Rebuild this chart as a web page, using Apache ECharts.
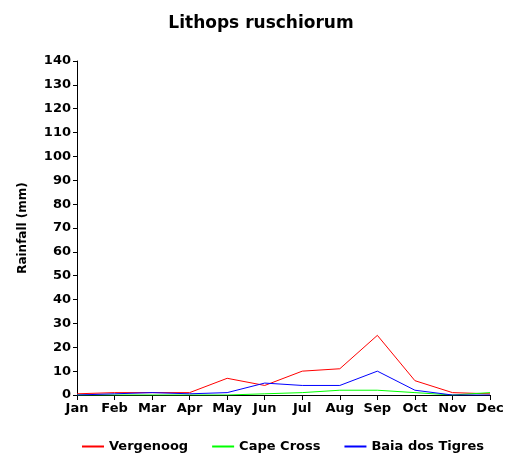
<!DOCTYPE html>
<html><head><meta charset="utf-8">
<script src="https://cdn.jsdelivr.net/npm/echarts@6/dist/echarts.min.js"></script>
<style>html,body{margin:0;padding:0;background:#fff}#c{width:522px;height:469px}</style>
</head><body><div id="c"></div>
<script>
const months = ['Jan','Feb','Mar','Apr','May','Jun','Jul','Aug','Sep','Oct','Nov','Dec'];
const vergenoog = [0.5, 1, 1, 1, 7, 4, 10, 11, 25, 6, 1, 0.5];
const capeCross = [0, 0, 0, 0, 0, 0.5, 1, 2, 2, 1, 0, 1];
const baiaDosTigres = [0, 0.5, 1, 0.5, 1, 5, 4, 4, 10, 2, 0, 0];
const seriesNames = ['Vergenoog', 'Cape Cross', 'Baia dos Tigres'];
const colors = ['#ff0000', '#00ff00', '#0000ff'];
const font = '"DejaVu Sans", Verdana, sans-serif';
const chart = echarts.init(document.getElementById('c'), null, {renderer: 'canvas'});
const mk = (name, data, color) => ({
  name, type: 'line', data, symbol: 'none', animation: false,
  lineStyle: {color, width: 1}, itemStyle: {color}
});
chart.setOption({
  animation: false,
  backgroundColor: '#fff',
  title: {text: 'Lithops ruschiorum', left: 'center', top: 10,
    textStyle: {fontFamily: font, fontSize: 17, fontWeight: 'bold', color: '#000'}},
  grid: {left: 77, right: 32, top: 61, bottom: 74},
  legend: {top: 435, left: 77, itemGap: 24, itemWidth: 22, itemHeight: 2,
    itemTextGap: 7, icon: 'rect',
    textStyle: {fontFamily: font, fontSize: 13, fontWeight: 'bold', color: '#000'},
    data: seriesNames},
  xAxis: {type: 'category', data: months, boundaryGap: false,
    axisLine: {lineStyle: {color: '#000', width: 1}},
    axisTick: {show: true, inside: false, length: 5, alignWithLabel: true, lineStyle: {color: '#000'}},
    axisLabel: {fontFamily: font, fontSize: 13, fontWeight: 'bold', color: '#000', margin: 7, interval: 0},
    splitLine: {show: false}},
  yAxis: {type: 'value', min: 0, max: 140, interval: 10,
    name: 'Rainfall (mm)', nameLocation: 'middle', nameGap: 48, nameRotate: 90,
    nameTextStyle: {fontFamily: font, fontSize: 12, fontWeight: 'bold', color: '#000'},
    axisLine: {show: true, lineStyle: {color: '#000', width: 1}},
    axisTick: {show: true, length: 4, lineStyle: {color: '#000'}},
    axisLabel: {fontFamily: font, fontSize: 13, fontWeight: 'bold', color: '#000', margin: 6},
    splitLine: {show: false}},
  series: [
    mk(seriesNames[0], vergenoog, colors[0]),
    mk(seriesNames[1], capeCross, colors[1]),
    mk(seriesNames[2], baiaDosTigres, colors[2])
  ]
});
</script></body></html>
